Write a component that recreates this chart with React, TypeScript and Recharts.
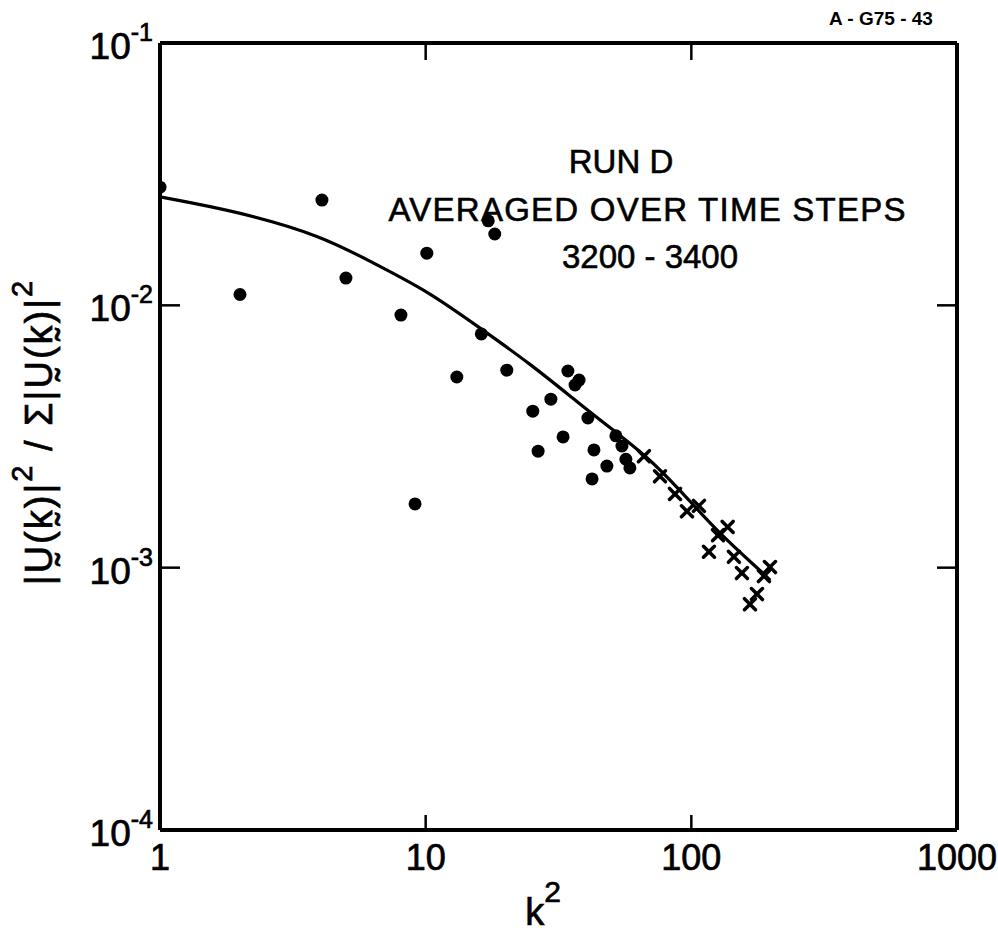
import React from 'react';
import { ComposedChart, Line, Scatter, XAxis, YAxis } from 'recharts';

// values (log-log)
const xTicks = [1, 10, 100, 1000];
const xTickLabels = ['1', '10', '100', '1000'];
const yTicks = [1e-4, 1e-3, 1e-2, 1e-1];
const yTickExps = ['-4', '-3', '-2', '-1'];

const curveK2 = [1, 2.0, 4.07, 6.34, 10.1, 16.0, 24.7, 38.1, 50.7, 68.0, 90.6, 126, 188, 198];
const curveRatio = [0.0259, 0.0227, 0.0184, 0.0145, 0.0114, 0.0082, 0.006, 0.0042, 0.00335, 0.00266, 0.00198, 0.00136, 0.000945, 0.000897];

const dotK2 = [1, 2.0, 4.07, 5.01, 8.07, 10.1, 9.12, 17.2, 18.2, 16.2, 13.1, 20.2, 34.3, 37.8, 36.5, 29.6, 25.3, 40.8, 32.9, 26.5, 43.0, 42.3, 48.1, 52.0, 54.8, 56.7, 58.7];
const dotRatio = [0.0282, 0.011, 0.0252, 0.0127, 0.00918, 0.0158, 0.00175, 0.021, 0.0187, 0.00778, 0.00533, 0.00566, 0.00562, 0.00519, 0.00497, 0.00439, 0.00395, 0.00372, 0.00315, 0.00278, 0.00281, 0.00218, 0.00244, 0.00318, 0.00291, 0.00259, 0.0024];

const crossK2 = [66.3, 76.2, 86.8, 96.3, 106.8, 126, 137, 116.5, 144.6, 155, 187.6, 197.7, 176.6, 166.2];
const crossRatio = [0.00266, 0.00223, 0.00191, 0.00164, 0.00172, 0.00133, 0.00143, 0.00115, 0.0011, 0.000954, 0.000929, 0.001005, 0.000793, 0.000726];

const curve = curveK2.map((x, i) => ({ x, y: curveRatio[i] }));
const dots = dotK2.map((x, i) => ({ x, y: dotRatio[i] }));
const crosses = crossK2.map((x, i) => ({ x, y: crossRatio[i] }));

const FONT = '"Liberation Sans", Arial, sans-serif';
const INK = '#000';

const Dot = (props: any) => <circle cx={props.cx} cy={props.cy} r={6.5} fill={INK} />;

const Cross = (props: any) => {
  const { cx, cy } = props;
  const s = 5.5;
  return (
    <g stroke={INK} strokeWidth={3.5} strokeLinecap="round">
      <line x1={cx - s} y1={cy - s} x2={cx + s} y2={cy + s} />
      <line x1={cx - s} y1={cy + s} x2={cx + s} y2={cy - s} />
    </g>
  );
};

const Nothing = () => <g />;

const isInner = (v: number, ticks: number[]) => v !== ticks[0] && v !== ticks[ticks.length - 1];

const BottomTick = (props: any) => {
  const { x, y, payload } = props;
  const i = xTicks.indexOf(payload.value);
  return (
    <g>
      {isInner(payload.value, xTicks) && <line x1={x} y1={y} x2={x} y2={y - 15} stroke={INK} strokeWidth={2.5} />}
      <text x={x} y={y + 40} textAnchor="middle" fontFamily={FONT} fontSize={36} fill={INK} stroke={INK} strokeWidth={0.7}>
        {xTickLabels[i]}
      </text>
    </g>
  );
};

const TopTick = (props: any) => {
  const { x, y, payload } = props;
  if (!isInner(payload.value, xTicks)) return <g />;
  return <line x1={x} y1={y} x2={x} y2={y + 17} stroke={INK} strokeWidth={2.5} />;
};

const LeftTick = (props: any) => {
  const { x, y, payload } = props;
  const i = yTicks.findIndex((t) => Math.abs(t - payload.value) / t < 1e-6);
  return (
    <g>
      {isInner(payload.value, yTicks) && <line x1={x} y1={y} x2={x + 20} y2={y} stroke={INK} strokeWidth={2.5} />}
      <text x={x - 7} y={y + 16} textAnchor="end" fontFamily={FONT} fill={INK} stroke={INK} strokeWidth={0.7}>
        <tspan fontSize={37}>10</tspan>
        <tspan fontSize={25} dy={-18}>{yTickExps[i]}</tspan>
      </text>
    </g>
  );
};

const RightTick = (props: any) => {
  const { x, y, payload } = props;
  if (!isInner(payload.value, yTicks)) return <g />;
  return <line x1={x} y1={y} x2={x - 20} y2={y} stroke={INK} strokeWidth={2.5} />;
};

const axisLine = { stroke: INK, strokeWidth: 4 };

export default function App() {
  return (
    <div style={{ position: 'absolute', left: 0, top: 0, width: 998, height: 941, background: '#fff' }}>
      <ComposedChart width={998} height={941} margin={{ top: 42, right: 40, bottom: 51, left: 90 }}>
        <XAxis xAxisId="b" dataKey="x" type="number" scale="log" domain={[1, 1000]} ticks={xTicks} allowDataOverflow
          height={60} tickSize={0} tickMargin={0} axisLine={axisLine} tickLine={false} tick={<BottomTick />} interval={0} />
        <XAxis xAxisId="t" dataKey="x" orientation="top" type="number" scale="log" domain={[1, 1000]} ticks={xTicks} allowDataOverflow
          height={1} tickSize={0} tickMargin={0} axisLine={axisLine} tickLine={false} tick={<TopTick />} interval={0} />
        <YAxis yAxisId="l" dataKey="y" type="number" scale="log" domain={[1e-4, 1e-1]} ticks={yTicks} allowDataOverflow
          width={70} tickSize={0} tickMargin={0} axisLine={axisLine} tickLine={false} tick={<LeftTick />} interval={0} />
        <YAxis yAxisId="r" dataKey="y" orientation="right" type="number" scale="log" domain={[1e-4, 1e-1]} ticks={yTicks} allowDataOverflow
          width={1} tickSize={0} tickMargin={0} axisLine={axisLine} tickLine={false} tick={<RightTick />} interval={0} />
        <Scatter xAxisId="t" yAxisId="r" data={dots} shape={<Nothing />} isAnimationActive={false} legendType="none" />
        <Line xAxisId="b" yAxisId="l" data={curve} dataKey="y" type="basis" stroke={INK} strokeWidth={3.2} dot={false} isAnimationActive={false} />
        <Scatter xAxisId="b" yAxisId="l" data={dots} shape={<Dot />} isAnimationActive={false} />
        <Scatter xAxisId="b" yAxisId="l" data={crosses} shape={<Cross />} isAnimationActive={false} />
      </ComposedChart>
      <svg width={998} height={941} style={{ position: 'absolute', left: 0, top: 0, pointerEvents: 'none' }}>
        <text x={881} y={25} textAnchor="middle" fontFamily={FONT} fontWeight="bold" fontSize={19} fill={INK}>A - G75 - 43</text>
        <g fontFamily={FONT} fontSize={33} fill={INK} stroke={INK} strokeWidth={0.6} textAnchor="middle">
          <text x={621} y={173}>RUN D</text>
          <text x={647} y={221} textLength={517}>AVERAGED OVER TIME STEPS</text>
          <text x={650} y={268}>3200 - 3400</text>
        </g>
        <text x={543} y={925} textAnchor="middle" fontFamily={FONT} fill={INK} stroke={INK} strokeWidth={0.7}>
          <tspan fontSize={38}>k</tspan>
          <tspan fontSize={30} dy={-23}>2</tspan>
        </text>
        <text transform="rotate(-90 52 432)" x={52} y={432} textAnchor="middle" fontFamily={FONT} fill={INK} stroke={INK} strokeWidth={0.7} letterSpacing={2}>
          <tspan fontSize={38}>|Ṵ(k̰)|</tspan>
          <tspan fontSize={29} dy={-20}>2</tspan>
          <tspan fontSize={38} dy={20}> / Σ|Ṵ(k̰)|</tspan>
          <tspan fontSize={29} dy={-20}>2</tspan>
        </text>
      </svg>
    </div>
  );
}
